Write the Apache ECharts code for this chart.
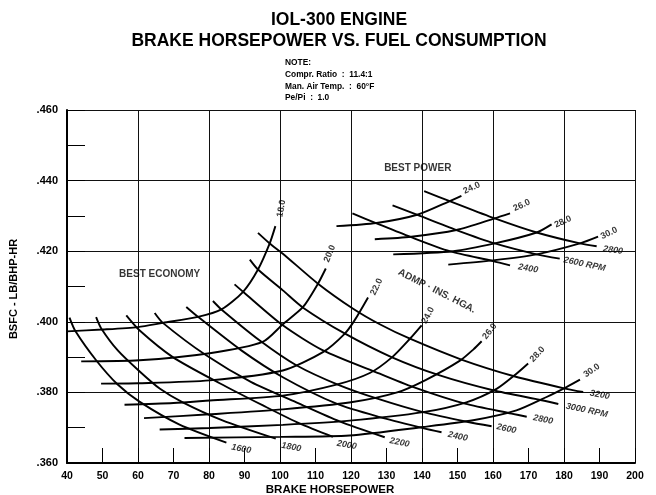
<!DOCTYPE html>
<html><head><meta charset="utf-8">
<script src="https://cdn.jsdelivr.net/npm/echarts@6/dist/echarts.min.js"></script>
<style>html,body{margin:0;padding:0;background:#fff}#c{width:656px;height:495px}</style>
</head><body><div id="c"></div>
<script>
// ---- DATA: [brake horsepower, BSFC lb/bhp-hr] ----
// Best economy: manifold pressure curves (in. Hg)
const map18 = [[40,.3973],[50,.3978],[60,.3985],[67,.3997],[76.9,.4014],[83.5,.4035],[89.6,.4085],[93.8,.4148],[97.1,.4222],[98.7,.4271]];
const map20 = [[44,.3888],[60.4,.3891],[80.2,.3911],[95.1,.3943],[100.8,.3993],[106.5,.4042],[110.7,.4108],[112.9,.4151]];
const map22 = [[49.6,.3825],[60,.3826],[80.2,.3834],[100.8,.3862],[112.1,.3914],[118.2,.3966],[121,.4004],[124.8,.4069]];
const map24 = [[56.2,.3765],[70,.3770],[80.2,.3777],[100.8,.3791],[115.9,.3822],[125.3,.3855],[131.6,.3900],[136.6,.3952],[139.9,.3990]];
const map26 = [[61.7,.3727],[80.2,.3738],[100.8,.3752],[120,.3772],[133,.3800],[141,.3835],[150.7,.3890],[154.5,.3922],[156.8,.3945]];
const map28 = [[66.1,.3695],[80.2,.3699],[100.8,.3708],[119.6,.3720],[140.3,.3744],[152.5,.3772],[161,.3810],[166.6,.3853],[169.9,.3882]];
const map30 = [[73.1,.3671],[100,.3674],[119.6,.3678],[140.3,.3702],[154.4,.3721],[166.6,.3749],[175.1,.3787],[180.7,.3815],[184.5,.3836]];
// Best economy: RPM curves
const rpm1600 = [[40.7,.4012],[42.4,.3973],[48.2,.3891],[54.2,.3823],[60.4,.3774],[71.7,.3709],[84.9,.3658]];
const rpm1800 = [[48.2,.4013],[49.6,.3982],[54.3,.3919],[60.4,.3860],[66.1,.3811],[72.6,.3772],[83.8,.3721],[98.8,.3669]];
const rpm2000 = [[56.7,.4018],[60.4,.3976],[69.8,.3900],[83,.3826],[95.2,.3763],[105.5,.3712],[114.9,.3674]];
const rpm2200 = [[64.7,.4025],[67,.3997],[79.2,.3905],[91.9,.3829],[104.6,.3772],[116.8,.3718],[129.5,.3673]];
const rpm2400 = [[73.6,.4042],[76.9,.4014],[89.1,.3919],[100.8,.3843],[115.9,.3768],[128.1,.3730],[140.3,.3699],[145.5,.3687]];
const rpm2600 = [[81.1,.4059],[83.5,.4035],[94.3,.3947],[104.6,.3877],[116.8,.3820],[128.1,.3780],[140.3,.3744],[153,.3716],[159.6,.3704]];
const rpm2800 = [[87.2,.4106],[89.6,.4085],[100.8,.3990],[112.1,.3919],[128.1,.3853],[138.4,.3812],[152.1,.3768],[165.2,.3740],[169.5,.3731]];
const rpm3000 = [[91.5,.4176],[93.8,.4148],[100.8,.4089],[106.5,.4040],[118.2,.3967],[131.4,.3900],[145,.3848],[160,.3806],[174.1,.3777],[178.4,.3767]];
const rpm3200 = [[93.8,.4252],[97.1,.4222],[100.8,.4193],[110.7,.4108],[120.6,.4037],[128.1,.3993],[136.6,.3952],[151.1,.3893],[166.2,.3845],[180.7,.3810],[185.4,.3801]];
// Best power curves
const bp2400 = [[120.4,.4307],[127.2,.4279],[136.6,.4241],[147.8,.4200],[160,.4172],[164.8,.4160]];
const bp2600 = [[131.7,.4330],[138.9,.4302],[149.7,.4260],[160.5,.4222],[172.3,.4191],[178.8,.4179]];
const bp2800 = [[140.6,.4370],[147.8,.4342],[160.5,.4293],[172.3,.4253],[184.5,.4222],[189.2,.4214]];
const bp24 = [[115.9,.4271],[127.2,.4280],[138.9,.4304],[147.4,.4340],[151.1,.4357]];
const bp26 = [[126.7,.4234],[137,.4241],[149.7,.4260],[160.5,.4293],[164.8,.4307]];
const bp28 = [[131.9,.4191],[148.8,.4200],[160.5,.4222],[172.3,.4253],[176.5,.4276]];
const bp30 = [[147.4,.4162],[160,.4174],[172.3,.4191],[184.5,.4222],[189.6,.4241]];
// Curve labels: [text, hp, bsfc]
const mapLabels = [['18.0',100.4,.4321],['20.0',114,.4193],['22.0',127.2,.4099],['24.0',141.7,.4018],['26.0',159.1,.3973],['28.0',172.5,.3908],['30.0',187.8,.3862]];
const rpmLabels = [['1600',89.1,.3640],['1800',103.2,.3645],['2000',118.8,.3651],['2200',133.7,.3658],['2400',150.1,.3675],['2600',163.8,.3697],['2800',174.1,.3723],['3000 RPM',186.4,.3749],['3200',190.1,.3793]];
const bpMapLabels = [['24.0',154,.4379],['26.0',168.1,.4330],['28.0',179.7,.4283],['30.0',192.7,.4251]];
const bpRpmLabels = [['2400',169.9,.4151],['2600 RPM',185.8,.4163],['2800',193.8,.4203]];
const areaLabels = [['BEST ECONOMY',66.1,.4135],['BEST POWER',138.8,.4435],['ADMP · INS. HGA.',144.2,.4087]];
const noteLines = ['NOTE:','Compr. Ratio  :  11.4:1','Man. Air Temp.  :  60°F','Pe/Pi  :  1.0'];

// ---- STYLE ----
const FONT = 'Liberation Sans, Arial, Helvetica, sans-serif';
const mapRot = [80,68,65,62,52,47,35];
const rpmRot = [-10,-10,-10,-11,-12,-12,-12,-12,-10];
const bpMapRot = [25,25,25,25];
const bpRpmRot = [-10,-12,-8];
const areaRot = [0,0,-27];

const curves = [map18,map20,map22,map24,map26,map28,map30,
  rpm1600,rpm1800,rpm2000,rpm2200,rpm2400,rpm2600,rpm2800,rpm3000,rpm3200,
  bp2400,bp2600,bp2800,bp24,bp26,bp28,bp30];

const series = curves.map(d => ({
  type:'line', data:d, smooth:0.25, symbol:'none', silent:true,
  xAxisIndex:0, yAxisIndex:0,
  lineStyle:{color:'#000', width:1.9}
}));

function labelSeries(items, rots, size, italic) {
  return {
    type:'scatter', symbolSize:1, silent:true, xAxisIndex:0, yAxisIndex:0,
    itemStyle:{color:'rgba(0,0,0,0)'},
    data: items.map((d,i) => ({
      value:[d[1], d[2]],
      label:{show:true, position:'inside', formatter:d[0], rotate:rots[i],
        color:'#000', fontSize:size, fontWeight:'bold', fontStyle: italic ? 'italic' : 'normal',
        fontFamily:FONT}
    }))
  };
}
series.push(labelSeries(mapLabels, mapRot, 9, false));
series.push(labelSeries(rpmLabels, rpmRot, 9, true));
series.push(labelSeries(bpMapLabels, bpMapRot, 9, false));
series.push(labelSeries(bpRpmLabels, bpRpmRot, 9, true));
series.push(labelSeries(areaLabels, areaRot, 10, false));

const txt = (t, x, y, size, align, rot) => ({
  type:'text', x:x, y:y, rotation: rot || 0,
  style:{text:t, font:'bold ' + size + 'px ' + FONT, fill:'#000',
    textAlign:align, textVerticalAlign:'middle', align:align, verticalAlign:'middle'}
});

const graphics = [
  txt('IOL-300 ENGINE', 339, 20, 17.5, 'center'),
  txt('BRAKE HORSEPOWER VS. FUEL CONSUMPTION', 339, 41, 17.5, 'center'),
  txt('BRAKE HORSEPOWER', 330, 490, 11.5, 'center'),
  txt('BSFC - LB/BHP-HR', 14, 289, 11, 'center', Math.PI/2)
];
noteLines.forEach((t,i) => graphics.push(txt(t, 285, 63 + i*11.6, 8.4, 'left')));

const chart = echarts.init(document.getElementById('c'), null, {renderer:'canvas'});
chart.setOption({
  animation:false,
  backgroundColor:'#fff',
  grid:{left:67, right:21, top:110, bottom:32, containLabel:false},
  xAxis:[
    {type:'value', min:40, max:200, interval:10, position:'bottom',
     axisLine:{show:true, lineStyle:{color:'#000', width:2}},
     axisTick:{show:true, inside:true, length:15, lineStyle:{color:'#000', width:1}},
     axisLabel:{color:'#000', fontSize:10.5, fontWeight:'bold', fontFamily:FONT, margin:8},
     splitLine:{show:false}},
    {type:'value', min:40, max:200, interval:20, position:'bottom',
     axisLine:{show:false}, axisTick:{show:false}, axisLabel:{show:false},
     splitLine:{show:true, lineStyle:{color:'#111', width:1}}}
  ],
  yAxis:[
    {type:'value', min:0.36, max:0.46, interval:0.02, position:'left',
     axisLine:{show:true, lineStyle:{color:'#000', width:2}},
     axisTick:{show:false},
     axisLabel:{color:'#000', fontSize:11, fontWeight:'bold', fontFamily:FONT, margin:9,
       formatter: v => v.toFixed(3).replace(/^0/, '')},
     splitLine:{show:true, lineStyle:{color:'#111', width:1}}},
    {type:'value', min:0.36, max:0.46, interval:0.01, position:'left',
     axisLine:{show:false}, axisLabel:{show:false}, splitLine:{show:false},
     axisTick:{show:true, inside:true, length:18, lineStyle:{color:'#000', width:1}}}
  ],
  graphic:graphics,
  series:series
});
</script></body></html>
